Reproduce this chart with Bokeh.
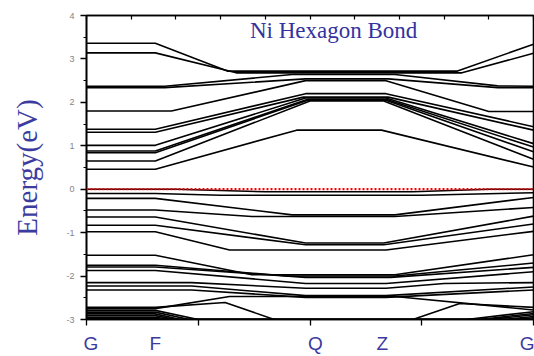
from bokeh.plotting import figure
from bokeh.models import Range1d, LinearAxis, FixedTicker, Span, Label
from bokeh.embed import file_html
from bokeh.resources import INLINE

# ---------------- data ----------------
kpath_labels = ["G", "F", "Q", "Z", "G"]
kpath_label_pos = [0.1, 1.54, 5.12, 6.62, 9.86]
bottom_ticks = [0, 2.5, 5, 7.5, 10]
top_ticks = [0, 1, 2, 3, 4, 5, 6, 7, 8, 9, 10]
y_ticks = [-3, -2, -1, 0, 1, 2, 3, 4]
y_tick_labels = ["-3", "-2", "-1", "0", "1", "2", "3", "4"]
y_minor_ticks = [-2.5, -1.5, -0.5, 0.5, 1.5, 2.5, 3.5]
fermi_level = 0.0
title_text = "Ni Hexagon Bond"
y_label = "Energy(eV)"

# conduction bands: [k, E] vertices
cb1 = [[0, 3.36], [1.54, 3.36], [3.15, 2.72], [8.3, 2.72], [10, 3.34]]
cb2 = [[0, 3.14], [1.54, 3.14], [3.35, 2.68], [8.4, 2.68], [10, 3.13]]
cb3 = [[0, 2.37], [1.75, 2.37], [4.6, 2.64], [6.9, 2.64], [9.2, 2.38], [10, 2.37]]
cb4 = [[0, 2.34], [1.75, 2.34], [4.9, 2.54], [6.75, 2.54], [9.2, 2.34], [10, 2.34]]
cb5 = [[0, 1.80], [1.9, 1.80], [4.9, 2.50], [6.7, 2.50], [9.0, 1.79], [10, 1.79]]
cb6 = [[0, 1.38], [1.54, 1.38], [4.9, 2.20], [6.7, 2.20], [10, 1.44]]
cb7 = [[0, 1.31], [1.54, 1.31], [4.85, 2.12], [6.75, 2.12], [10, 1.36]]
cb8 = [[0, 1.01], [1.54, 1.01], [4.9, 2.10], [6.7, 2.10], [10, 1.05]]
cb9 = [[0, 0.88], [1.54, 0.88], [4.95, 2.07], [6.7, 2.07], [10, 0.97]]
cb10 = [[0, 0.84], [1.54, 0.84], [4.95, 2.05], [6.7, 2.05], [10, 0.86]]
cb11 = [[0, 0.65], [1.54, 0.65], [5.0, 2.03], [6.65, 2.03], [10, 0.69]]
cb12 = [[0, 0.46], [1.54, 0.46], [4.7, 1.36], [6.6, 1.36], [10, 0.51]]

# valence bands
vb1 = [[0, 0.0], [2.0, 0.0], [4.0, -0.06], [7.3, -0.06], [9.0, 0.0], [10, 0.0]]
vb2 = [[0, -0.10], [1.54, -0.10], [3.0, -0.14], [7.5, -0.14], [10, -0.08]]
vb3 = [[0, -0.21], [1.54, -0.21], [4.6, -0.59], [6.9, -0.59], [10, -0.19]]
vb4 = [[0, -0.48], [1.54, -0.48], [3.7, -0.63], [6.9, -0.63], [10, -0.42]]
vb5 = [[0, -0.64], [1.54, -0.64], [4.9, -1.24], [6.65, -1.24], [10, -0.62]]
vb6 = [[0, -0.83], [1.54, -0.83], [4.9, -1.28], [6.65, -1.28], [10, -0.80]]
vb7 = [[0, -0.98], [1.54, -0.98], [3.2, -1.40], [6.7, -1.40], [10, -0.97]]
vb8 = [[0, -1.52], [1.54, -1.52], [3.7, -1.97], [6.9, -1.97], [10, -1.51]]
vb9 = [[0, -1.75], [1.54, -1.75], [4.5, -2.00], [6.9, -2.00], [10, -1.70]]
vb10 = [[0, -1.79], [1.54, -1.79], [4.9, -2.03], [6.8, -2.03], [10, -1.80]]
vb11 = [[0, -1.87], [1.54, -1.87], [4.9, -2.17], [6.7, -2.17], [10, -1.90]]
vb12 = [[0, -2.15], [2.35, -2.15], [4.9, -2.28], [6.7, -2.28], [8.0, -2.17], [10, -2.15]]
vb13 = [[0, -2.23], [2.35, -2.23], [4.9, -2.45], [6.7, -2.45], [10, -2.25]]
vb14 = [[0, -2.32], [2.35, -2.32], [4.9, -2.49], [6.7, -2.49], [10, -2.32]]
vb15 = [[0, -2.72], [1.54, -2.72], [3.1, -2.61], [4.2, -3.0], [7.3, -3.0], [8.35, -2.63], [10, -2.72]]
vb16 = [[0, -2.75], [1.54, -2.75], [3.2, -2.47], [6.9, -2.47], [10, -2.78]]
vb17 = [[0, -2.79], [1.54, -2.79], [2.5, -3.0], [8.5, -3.0], [10, -2.82]]
vb18 = [[0, -2.83], [1.54, -2.83], [2.3, -3.0], [8.8, -3.0], [10, -2.86]]
vb19 = [[0, -2.87], [1.54, -2.87], [2.1, -3.0], [9.0, -3.0], [10, -2.89]]
vb20 = [[0, -2.91], [1.54, -2.91], [2.0, -3.0], [9.3, -3.0], [10, -2.93]]
vb21 = [[0, -2.95], [1.54, -2.95], [1.9, -3.0], [9.5, -3.0], [10, -2.96]]
vb22 = [[0, -2.98], [1.54, -2.98], [1.8, -3.0], [9.7, -3.0], [10, -2.99]]

conduction = [cb1, cb2, cb3, cb4, cb5, cb6, cb7, cb8, cb9, cb10, cb11, cb12]
valence = [vb1, vb2, vb3, vb4, vb5, vb6, vb7, vb8, vb9, vb10, vb11,
           vb12, vb13, vb14, vb15, vb16, vb17, vb18, vb19, vb20, vb21, vb22]
bands = conduction + valence

# ---------------- figure ----------------
p = figure(width=534, height=356, x_range=Range1d(0, 10), y_range=Range1d(-3, 4),
           output_backend="svg", toolbar_location=None,
           min_border_left=86, min_border_right=1, min_border_top=15, min_border_bottom=37)
p.grid.visible = False
p.outline_line_color = "black"
p.outline_line_width = 1.6
p.background_fill_color = "white"
p.border_fill_color = "white"

xs = [[pt[0] for pt in b] for b in bands]
ys = [[pt[1] for pt in b] for b in bands]
p.multi_line(xs, ys, line_color="black", line_width=1.6)

p.add_layout(Span(location=fermi_level, dimension="width", line_color="#ff0000",
                  line_dash="2 2", line_width=2.2))

# left axis with tick labels and axis title
ya = p.yaxis[0]
ya.ticker = FixedTicker(ticks=y_ticks, minor_ticks=y_minor_ticks)
ya.major_label_overrides = {t: s for t, s in zip(y_ticks, y_tick_labels)}
ya.major_tick_out = 6
ya.major_tick_in = 0
ya.minor_tick_out = 3
ya.minor_tick_in = 0
ya.axis_line_width = 1.6
ya.major_tick_line_width = 1.3
ya.major_label_text_font_size = "9px"
ya.major_label_text_color = "#858585"
ya.major_label_standoff = 6
ya.axis_label = y_label
ya.axis_label_text_font = "Liberation Serif"
ya.axis_label_text_font_style = "normal"
ya.axis_label_text_font_size = "29px"
ya.axis_label_text_color = "#3c3ca0"
ya.axis_label_standoff = 20

# bottom axis: tick marks only
xa = p.xaxis[0]
xa.ticker = FixedTicker(ticks=bottom_ticks, minor_ticks=[])
xa.major_tick_out = 6
xa.major_tick_in = 0
xa.axis_line_width = 1.6
xa.major_tick_line_width = 1.3
xa.major_label_text_font_size = "1px"
xa.major_label_text_color = None
xa.major_label_standoff = 0

# second bottom axis: high-symmetry point labels
kx = LinearAxis(ticker=FixedTicker(ticks=kpath_label_pos, minor_ticks=[]),
                major_label_overrides={pos: lab for pos, lab in zip(kpath_label_pos, kpath_labels)},
                axis_line_color=None, major_tick_line_color=None, minor_tick_line_color=None,
                major_tick_out=0, major_tick_in=0, major_label_standoff=7,
                major_label_text_font="Liberation Sans", major_label_text_font_size="19px",
                major_label_text_color="#3a3aa0")
p.add_layout(kx, "below")

# top axis: inward ticks only
top = LinearAxis(ticker=FixedTicker(ticks=top_ticks, minor_ticks=[]),
                 major_tick_in=4, major_tick_out=0, minor_tick_in=0, minor_tick_out=0,
                 major_label_text_font_size="1px", major_label_text_color=None,
                 major_label_standoff=0,
                 axis_line_width=1.6, major_tick_line_width=1.2)
p.add_layout(top, "above")

p.add_layout(Label(x=5.53, y=3.66, text=title_text, text_align="center", text_baseline="middle",
                   text_font="Liberation Serif", text_font_size="23px", text_color="#3333a0"))

open("out.html", "w").write(file_html(p, INLINE))
